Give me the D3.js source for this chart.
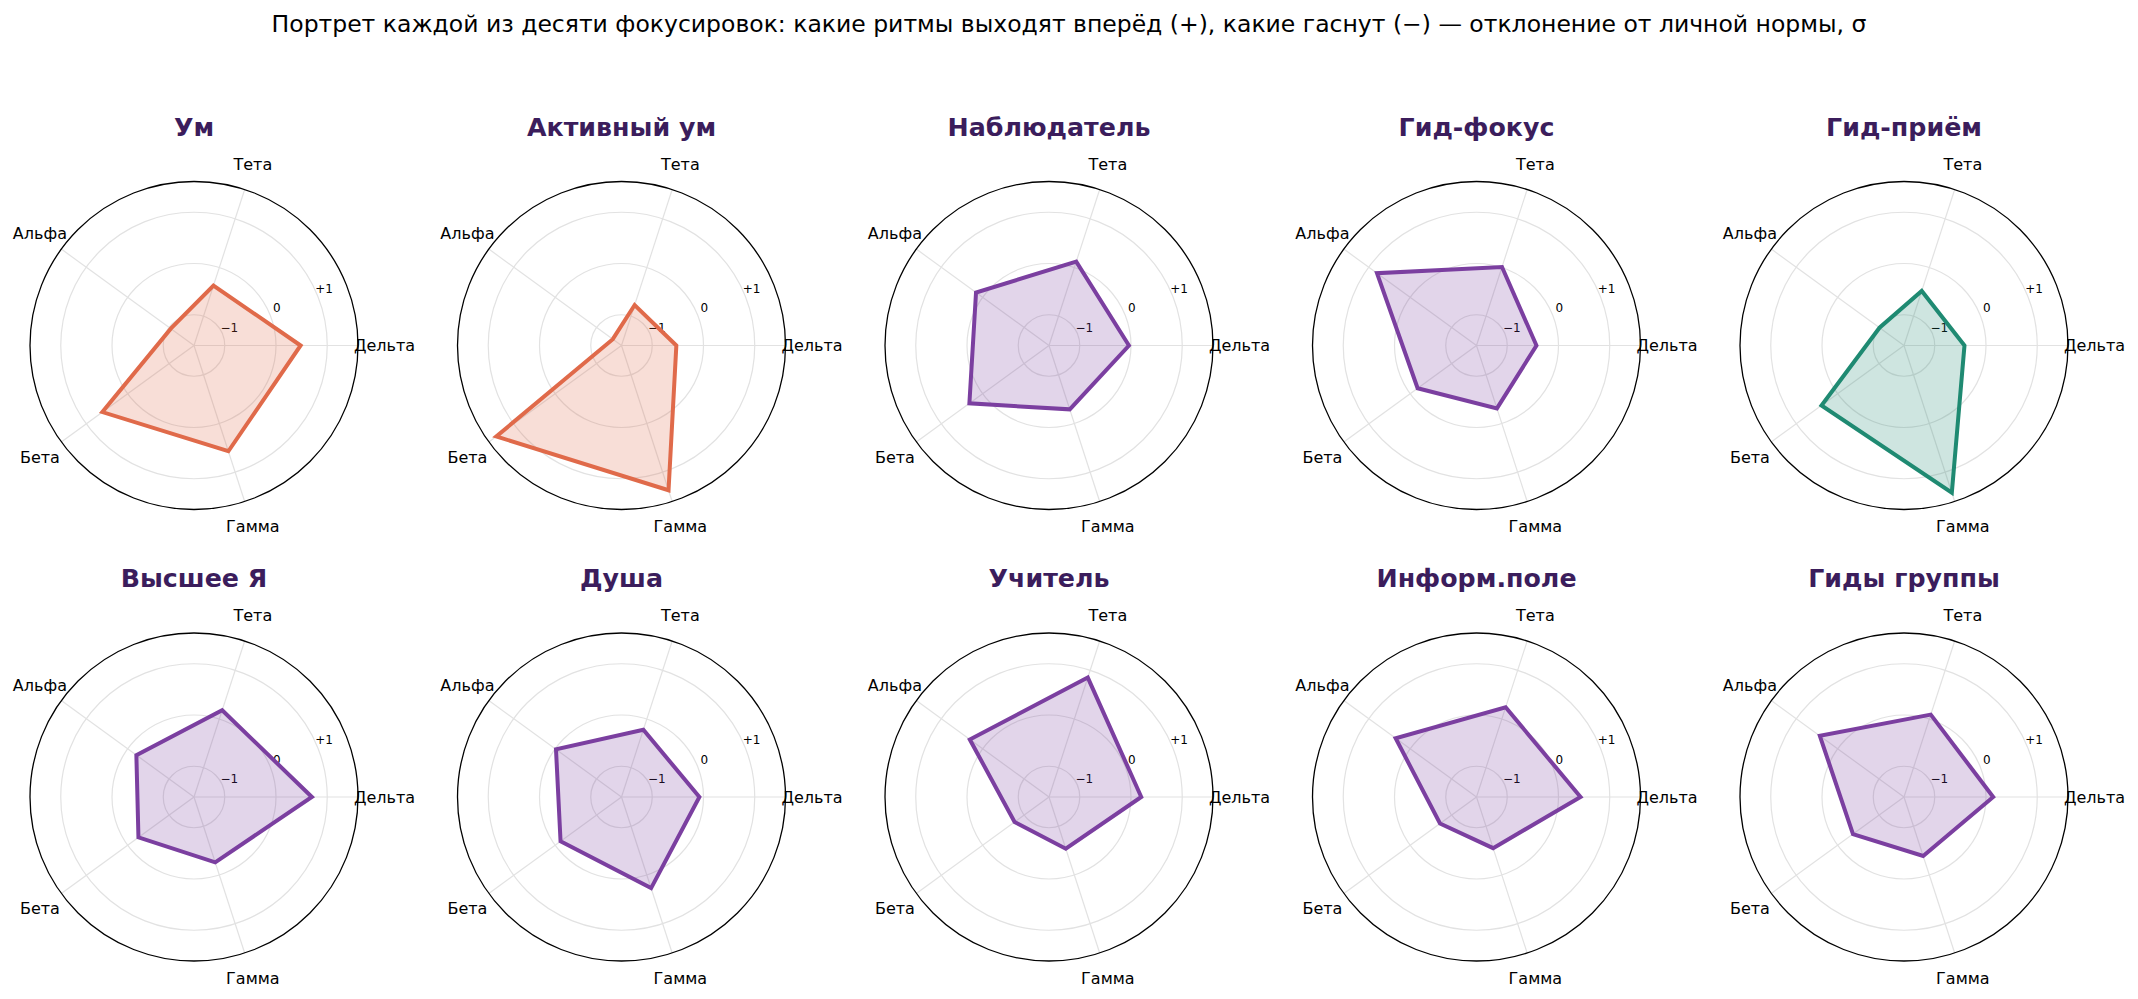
<!DOCTYPE html>
<html>
<head>
<meta charset="utf-8">
<title>Портрет фокусировок</title>
<script src="https://cdn.jsdelivr.net/npm/d3@7"></script>
<style>
body { margin: 0; background: #fff; }
text { font-family: "DejaVu Sans", sans-serif; }
</style>
</head>
<body>
<script>

// ритмы (оси), против часовой стрелки от востока
var rhythms = ["Дельта", "Тета", "Альфа", "Бета", "Гамма"];

var focusNames = ["Ум", "Активный ум", "Наблюдатель", "Гид-фокус", "Гид-приём",
                  "Высшее Я", "Душа", "Учитель", "Информ.поле", "Гиды группы"];

// отклонение от личной нормы, σ  (Дельта, Тета, Альфа, Бета, Гамма)
var um          = [ 0.48, -0.37, -1.04,  0.61,  0.57];
var activeUm    = [-0.53, -0.77, -1.39,  1.42,  1.37];
var observer    = [-0.04,  0.12,  0.16,  0.32, -0.29];
var guideFocus  = [-0.43,  0.01,  0.80, -0.18, -0.31];
var guideIntake = [-0.42, -0.48, -1.01,  0.39,  1.42];
var higherSelf  = [ 0.70,  0.18, -0.21, -0.26, -0.26];
var soul        = [-0.08, -0.22, -0.02, -0.13,  0.27];
var teacher     = [ 0.20,  0.85,  0.31, -0.77, -0.54];
var infoField   = [ 0.43,  0.24,  0.35, -0.72, -0.55];
var groupGuides = [ 0.14,  0.09,  0.43, -0.37, -0.39];

var series = [um, activeUm, observer, guideFocus, guideIntake,
              higherSelf, soul, teacher, infoField, groupGuides];

// группа цвета для каждой фокусировки
var colorGroup = ["mind", "mind", "other", "other", "intake",
                  "other", "other", "other", "other", "other"];

var rTicks = [-1, 0, 1];
var rTickLabels = ["\u22121", "0", "+1"];

var suptitle = "Портрет каждой из десяти фокусировок: какие ритмы выходят вперёд (+), какие гаснут (\u2212) — отклонение от личной нормы, σ";

var width = 2138,
    height = 999;

var colors = {mind: "#e06a4a", intake: "#1f8a72", other: "#7b3fa0"};

var R = 164;
var x0 = 194, dx = 427.5;
var rowY = [345.5, 797];

var r = d3.scaleLinear().domain([-1.6, 1.6]).range([0, R]);

// matplotlib-угол (от востока, против часовой) -> угол d3 (от севера, по часовой)
function ang(i) { return Math.PI / 2 - i * 2 * Math.PI / rhythms.length; }

var svg = d3.select("body").append("svg")
    .attr("width", width)
    .attr("height", height);

svg.append("text")
    .attr("x", width / 2)
    .attr("y", 31.5)
    .attr("text-anchor", "middle")
    .style("font-size", "23.5px")
    .style("fill", "#000")
    .text(suptitle);

var line = d3.lineRadial()
    .angle(function(d, i) { return ang(i); })
    .radius(function(d) { return r(d); })
    .curve(d3.curveLinearClosed);

series.forEach(function(vals, k) {
  var cx = x0 + dx * (k % 5),
      cy = rowY[Math.floor(k / 5)];
  var col = colors[colorGroup[k]];

  var g = svg.append("g")
      .attr("transform", "translate(" + cx + "," + cy + ")");

  // кольца сетки
  g.selectAll("circle.grid")
      .data(rTicks)
      .enter().append("circle")
      .attr("class", "grid")
      .attr("r", function(d) { return r(d); })
      .style("fill", "none")
      .style("stroke", "#e2e2e2")
      .style("stroke-width", 1.2);

  // спицы
  g.selectAll("line.spoke")
      .data(rhythms)
      .enter().append("line")
      .attr("class", "spoke")
      .attr("x1", 0).attr("y1", 0)
      .attr("x2", function(d, i) { return R * Math.sin(ang(i)); })
      .attr("y2", function(d, i) { return -R * Math.cos(ang(i)); })
      .style("stroke", "#e2e2e2")
      .style("stroke-width", 1.2);

  // внешняя окружность
  g.append("circle")
      .attr("r", R)
      .style("fill", "none")
      .style("stroke", "#000")
      .style("stroke-width", 1.3);

  // подписи значений
  var a = 22.5 * Math.PI / 180;
  g.selectAll("text.rtick")
      .data(rTicks)
      .enter().append("text")
      .attr("class", "rtick")
      .attr("x", function(d) { return r(d) * Math.cos(a) + 7; })
      .attr("y", function(d) { return -r(d) * Math.sin(a) - 6; })
      .attr("text-anchor", "middle")
      .attr("dominant-baseline", "central")
      .style("font-size", "12px")
      .text(function(d, i) { return rTickLabels[i]; });

  // полигон
  g.append("path")
      .datum(vals)
      .attr("d", line)
      .style("fill", col)
      .style("fill-opacity", 0.22)
      .style("stroke", col)
      .style("stroke-width", 4)
      .style("stroke-linejoin", "miter");

  // подписи ритмов
  g.selectAll("text.axis")
      .data(rhythms)
      .enter().append("text")
      .attr("class", "axis")
      .attr("x", function(d, i) { return (R + 26.5) * Math.sin(ang(i)); })
      .attr("y", function(d, i) { return -(R + 26.5) * Math.cos(ang(i)); })
      .attr("text-anchor", "middle")
      .attr("dominant-baseline", "central")
      .style("font-size", "16px")
      .text(function(d) { return d; });

  // заголовок панели
  g.append("text")
      .attr("x", 0)
      .attr("y", -210)
      .attr("text-anchor", "middle")
      .style("font-size", "25.3px")
      .style("font-weight", "bold")
      .style("fill", "#3b1d5c")
      .text(focusNames[k]);
});

</script>
</body>
</html>
